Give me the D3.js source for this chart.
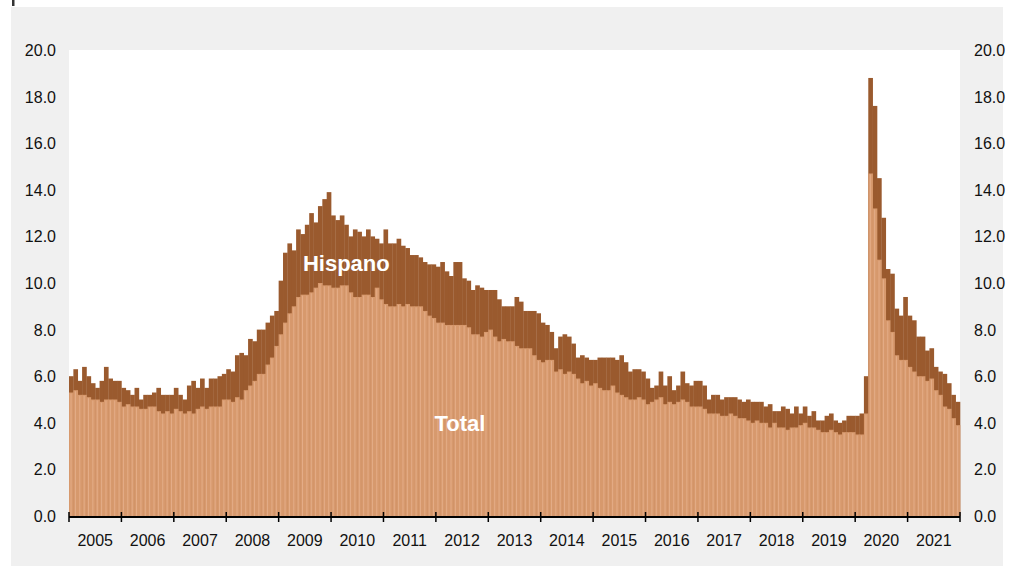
<!DOCTYPE html>
<html>
<head>
<meta charset="utf-8">
<script src="https://cdn.jsdelivr.net/npm/d3@7"></script>
<style>
  html, body { margin: 0; padding: 0; background: #fff; }
  svg { display: block; font-family: Arial, "Liberation Sans", sans-serif; }
</style>
</head>
<body>
<svg id="chart" width="1011" height="571"></svg>
<script>
// monthly unemployment rate (%), Jan 2005 - Dec 2021
const years = [2005, 2006, 2007, 2008, 2009, 2010, 2011, 2012, 2013,
               2014, 2015, 2016, 2017, 2018, 2019, 2020, 2021];

const totalRate = [
  5.3, 5.4, 5.2, 5.2, 5.1, 5.0, 5.0, 4.9, 5.0, 5.0, 5.0, 4.9,
  4.7, 4.8, 4.7, 4.7, 4.6, 4.6, 4.7, 4.7, 4.5, 4.4, 4.5, 4.4,
  4.6, 4.5, 4.4, 4.5, 4.4, 4.6, 4.7, 4.6, 4.7, 4.7, 4.7, 5.0,
  5.0, 4.9, 5.1, 5.0, 5.4, 5.6, 5.8, 6.1, 6.1, 6.5, 6.8, 7.3,
  7.8, 8.3, 8.7, 9.0, 9.4, 9.5, 9.5, 9.6, 9.8, 10.0, 9.9, 9.9,
  9.8, 9.8, 9.9, 9.9, 9.6, 9.4, 9.4, 9.5, 9.5, 9.4, 9.8, 9.3,
  9.1, 9.0, 9.0, 9.1, 9.0, 9.1, 9.0, 9.0, 9.0, 8.8, 8.6, 8.5,
  8.3, 8.3, 8.2, 8.2, 8.2, 8.2, 8.2, 8.1, 7.8, 7.8, 7.7, 7.9,
  8.0, 7.7, 7.5, 7.6, 7.5, 7.5, 7.3, 7.2, 7.2, 7.2, 6.9, 6.7,
  6.6, 6.7, 6.7, 6.2, 6.3, 6.1, 6.2, 6.1, 5.9, 5.7, 5.8, 5.6,
  5.7, 5.5, 5.4, 5.4, 5.6, 5.3, 5.2, 5.1, 5.0, 5.0, 5.1, 5.0,
  4.8, 4.9, 5.0, 5.1, 4.8, 4.9, 4.8, 4.9, 5.0, 4.9, 4.7, 4.7,
  4.7, 4.6, 4.4, 4.4, 4.4, 4.3, 4.3, 4.4, 4.3, 4.2, 4.2, 4.1,
  4.0, 4.1, 4.0, 4.0, 3.8, 4.0, 3.8, 3.8, 3.7, 3.8, 3.8, 3.9,
  4.0, 3.8, 3.8, 3.7, 3.6, 3.6, 3.7, 3.6, 3.5, 3.6, 3.6, 3.6,
  3.5, 3.5, 4.4, 14.7, 13.2, 11.0, 10.2, 8.4, 7.9, 6.9, 6.7, 6.7,
  6.4, 6.2, 6.0, 6.0, 5.8, 5.9, 5.4, 5.2, 4.7, 4.6, 4.2, 3.9
];

const hispanicRate = [
  6.0, 6.3, 5.8, 6.4, 6.0, 5.7, 5.5, 5.8, 6.4, 5.9, 5.8, 5.8,
  5.5, 5.4, 5.2, 5.5, 5.0, 5.2, 5.2, 5.3, 5.5, 5.2, 5.2, 5.2,
  5.5, 5.2, 5.0, 5.6, 5.8, 5.5, 5.9, 5.5, 5.9, 5.9, 6.0, 6.1,
  6.3, 6.2, 6.9, 7.0, 6.9, 7.6, 7.5, 8.0, 8.0, 8.3, 8.6, 8.8,
  10.1, 11.3, 11.7, 11.4, 12.3, 12.1, 12.5, 13.0, 12.6, 13.3, 13.6, 13.9,
  12.9, 12.7, 12.9, 12.5, 12.0, 12.3, 12.2, 12.0, 12.3, 12.0, 11.9, 11.7,
  12.3, 11.7, 11.7, 11.9, 11.6, 11.5, 11.2, 11.2, 11.1, 10.9, 10.8, 10.8,
  10.7, 10.9, 10.5, 10.3, 10.9, 10.9, 10.2, 10.1, 9.7, 9.9, 9.8, 9.7,
  9.7, 9.7, 9.3, 9.0, 9.0, 9.0, 9.4, 9.2, 8.8, 8.8, 8.8, 8.7,
  8.3, 8.2, 7.9, 7.2, 7.7, 7.8, 7.7, 7.4, 6.8, 6.9, 6.8, 6.7,
  6.7, 6.8, 6.8, 6.8, 6.8, 6.7, 6.9, 6.6, 6.2, 6.3, 6.3, 6.2,
  5.9, 5.5, 5.6, 6.2, 5.6, 6.0, 5.4, 5.6, 6.2, 5.7, 5.6, 5.8,
  5.8, 5.6, 5.0, 5.2, 5.2, 5.0, 5.1, 5.1, 5.1, 5.0, 4.9, 5.0,
  4.9, 4.9, 4.9, 4.7, 4.8, 4.5, 4.5, 4.7, 4.6, 4.4, 4.7, 4.4,
  4.7, 4.3, 4.5, 4.1, 4.1, 4.3, 4.4, 4.1, 4.0, 4.1, 4.3, 4.3,
  4.3, 4.4, 6.0, 18.8, 17.6, 14.5, 12.8, 10.6, 10.4, 8.9, 8.6, 9.4,
  8.6, 8.4, 7.7, 7.7, 7.1, 7.2, 6.4, 6.2, 6.1, 5.7, 5.2, 4.9
];

const yTicks = [0, 2, 4, 6, 8, 10, 12, 14, 16, 18, 20];
const hispanicLabel = "Hispano";
const totalLabel = "Total";

const W = 1011, H = 571;
const margin = { top: 50, right: 51, bottom: 55, left: 69 };
const plotW = W - margin.left - margin.right;
const plotH = H - margin.top - margin.bottom;

const svg = d3.select("#chart");

// grey frame + white plot area
svg.append("rect").attr("x", 11).attr("y", 7).attr("width", 992).attr("height", 559)
  .attr("fill", "#f0f0f0");
svg.append("rect").attr("x", 12).attr("y", 0).attr("width", 2.5).attr("height", 6)
  .attr("fill", "#333");
svg.append("rect").attr("x", margin.left).attr("y", margin.top)
  .attr("width", plotW).attr("height", plotH).attr("fill", "#fff");

const months = d3.range(totalRate.length);

const x = d3.scaleBand()
  .domain(months)
  .range([margin.left, margin.left + plotW])
  .padding(0);

const y = d3.scaleLinear()
  .domain([0, 20])
  .range([margin.top + plotH, margin.top]);

const g = svg.append("g");

// Hispanic bars behind
g.selectAll(".hisp")
  .data(hispanicRate)
  .enter()
  .append("rect")
  .attr("class", "hisp")
  .attr("x", (d, i) => x(i))
  .attr("width", x.bandwidth() + 0.3)
  .attr("y", d => y(d))
  .attr("height", d => y(0) - y(d))
  .attr("fill", "#9a5a2e");

// Total bars in front
g.selectAll(".tot")
  .data(totalRate)
  .enter()
  .append("rect")
  .attr("class", "tot")
  .attr("x", (d, i) => x(i))
  .attr("width", x.bandwidth() + 0.3)
  .attr("y", d => y(d))
  .attr("height", d => y(0) - y(d))
  .attr("fill", "#d7996d");

// light stripe on each total bar
g.selectAll(".stripe")
  .data(totalRate)
  .enter()
  .append("rect")
  .attr("class", "stripe")
  .attr("x", (d, i) => x(i) + x.bandwidth() * 0.35)
  .attr("width", 1)
  .attr("y", d => y(d) + 1)
  .attr("height", d => y(0) - y(d) - 1)
  .attr("fill", "#e4ad88");

// labels inside the bars
svg.append("text")
  .attr("x", x(63) + x.bandwidth() / 2)
  .attr("y", y(10.5))
  .attr("text-anchor", "middle")
  .attr("font-size", 22).attr("font-weight", "bold")
  .attr("fill", "#fff")
  .text(hispanicLabel);

svg.append("text")
  .attr("x", x(89) + x.bandwidth() / 2)
  .attr("y", y(3.66))
  .attr("text-anchor", "middle")
  .attr("font-size", 22).attr("font-weight", "bold")
  .attr("fill", "#fff")
  .text(totalLabel);

// y axes both sides, labels only
const fmt = d3.format(".1f");
svg.selectAll(".yl")
  .data(yTicks)
  .enter()
  .append("text")
  .attr("x", margin.left - 13)
  .attr("y", d => y(d) + 6)
  .attr("text-anchor", "end")
  .attr("font-size", 16)
  .attr("fill", "#111")
  .text(fmt);

svg.selectAll(".yr")
  .data(yTicks)
  .enter()
  .append("text")
  .attr("x", margin.left + plotW + 14)
  .attr("y", d => y(d) + 6)
  .attr("text-anchor", "start")
  .attr("font-size", 16)
  .attr("fill", "#111")
  .text(fmt);

// x axis: baseline, year boundary ticks, year labels
const base = y(0);
svg.append("line")
  .attr("x1", margin.left).attr("x2", margin.left + plotW)
  .attr("y1", base + 1).attr("y2", base + 1)
  .attr("stroke", "#000").attr("stroke-width", 2);

const bounds = years.map((yr, k) => x(k * 12)).concat([margin.left + plotW]);
svg.selectAll(".xt")
  .data(bounds)
  .enter()
  .append("line")
  .attr("x1", d => d).attr("x2", d => d)
  .attr("y1", base - 4).attr("y2", base + 6)
  .attr("stroke", "#000").attr("stroke-width", 1.5);

svg.selectAll(".xl")
  .data(years)
  .enter()
  .append("text")
  .attr("x", (yr, k) => (bounds[k] + bounds[k + 1]) / 2)
  .attr("y", base + 30)
  .attr("text-anchor", "middle")
  .attr("font-size", 16)
  .attr("fill", "#111")
  .text(d => d);
</script>
</body>
</html>
